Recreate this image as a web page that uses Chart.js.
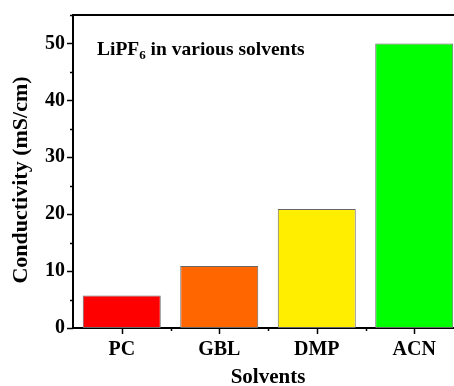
<!DOCTYPE html>
<html>
<head>
<meta charset="utf-8">
<script src="https://cdn.jsdelivr.net/npm/chart.js@4.4.1/dist/chart.umd.min.js"></script>
<style>
  html, body { margin: 0; padding: 0; background: #fff; overflow: hidden; }
  #wrap { width: 470px; height: 390px; }
</style>
</head>
<body>
<div id="wrap"><canvas id="chart" width="470" height="390"></canvas></div>
<script>
// data
const solvents = ['PC', 'GBL', 'DMP', 'ACN'];
const conductivity = [5.7, 10.9, 20.9, 50.0];
const barColors = ['#ff0000', '#ff6600', '#ffee00', '#00ff00'];
const yTicks = [0, 10, 20, 30, 40, 50];
const yTitle = 'Conductivity (mS/cm)';
const noteMain = 'LiPF';
const noteSub = '6';
const noteRest = ' in various solvents';

const serif = "'Liberation Serif', 'Times New Roman', serif";

// ticks, top frame line, y title and the note
const framePlugin = {
	id: 'frame',
	afterDraw(chart) {
		const c = chart.ctx;
		const area = chart.chartArea;
		const y = chart.scales.y;
		const x = chart.scales.x;
		c.save();
		c.strokeStyle = '#000';
		c.lineWidth = 2;
		c.beginPath();
		c.moveTo(area.left - 1, area.top);
		c.lineTo(area.right + 1, area.top);
		c.stroke();

		c.lineWidth = 1.5;
		for (let v = 0; v <= 55; v += 5) {
			let py = Math.round(y.getPixelForValue(v)) + 0.5;
			let len = (v % 10 === 0) ? 6 : 3;
			c.beginPath();
			c.moveTo(area.left, py);
			c.lineTo(area.left - len, py);
			c.stroke();
		}
		solvents.forEach((s, i) => {
			let px = Math.round(x.getPixelForValue(i)) + 0.5;
			c.beginPath();
			c.moveTo(px, area.bottom);
			c.lineTo(px, area.bottom + 6);
			c.stroke();
			let bx = Math.round(x.getPixelForValue(i + 0.5)) + 0.5;
			c.beginPath();
			c.moveTo(bx, area.bottom);
			c.lineTo(bx, area.bottom + 3);
			c.stroke();
		});

		c.fillStyle = '#000';
		// y axis title
		c.save();
		c.translate(21, 180);
		c.rotate(-Math.PI / 2);
		c.textAlign = 'center';
		c.textBaseline = 'middle';
		c.font = 'bold 22px ' + serif;
		c.fillText(yTitle, 0, 0);
		c.restore();

		// note
		c.textBaseline = 'alphabetic';
		let tx = area.left + 24;
		let ty = area.top + 40;
		c.font = 'bold 19.5px ' + serif;
		c.fillText(noteMain, tx, ty);
		tx += c.measureText(noteMain).width;
		c.font = 'bold 13px ' + serif;
		c.fillText(noteSub, tx, ty + 4);
		tx += c.measureText(noteSub).width;
		c.font = 'bold 19.5px ' + serif;
		c.fillText(noteRest, tx, ty);
		c.restore();
	}
};

new Chart(document.getElementById('chart'), {
	type: 'bar',
	data: {
		labels: solvents,
		datasets: [{
			data: conductivity,
			backgroundColor: barColors,
			borderColor: '#666',
			borderWidth: 1,
			borderSkipped: false,
			barPercentage: 0.8,
			categoryPercentage: 1.0
		}]
	},
	options: {
		responsive: false,
		animation: false,
		layout: { padding: { left: 0, right: 7, top: 15, bottom: 0 } },
		plugins: {
			legend: { display: false },
			tooltip: { enabled: false }
		},
		scales: {
			x: {
				grid: { display: false },
				border: { display: true, color: '#000', width: 2 },
				ticks: {
					color: '#000',
					padding: 2,
					font: { family: serif, size: 20, weight: 'bold' }
				},
				title: {
					display: true,
					text: 'Solvents',
					color: '#000',
					padding: { top: 0, bottom: 0 },
					font: { family: serif, size: 21, weight: 'bold' }
				},
				afterFit(scale) { scale.height = 62; scale.paddingLeft = 0; scale.paddingRight = 0; }
			},
			y: {
				min: 0,
				max: 55,
				afterBuildTicks(scale) {
					scale.ticks = yTicks.map(v => ({ value: v }));
				},
				grid: { display: false },
				border: { display: true, color: '#000', width: 2 },
				ticks: {
					color: '#000',
					padding: 0,
					font: { family: serif, size: 20, weight: 'bold' }
				},
				afterFit(scale) { scale.width = 73; scale.paddingTop = 0; scale.paddingBottom = 0; }
			}
		}
	},
	plugins: [framePlugin]
});
</script>
</body>
</html>
